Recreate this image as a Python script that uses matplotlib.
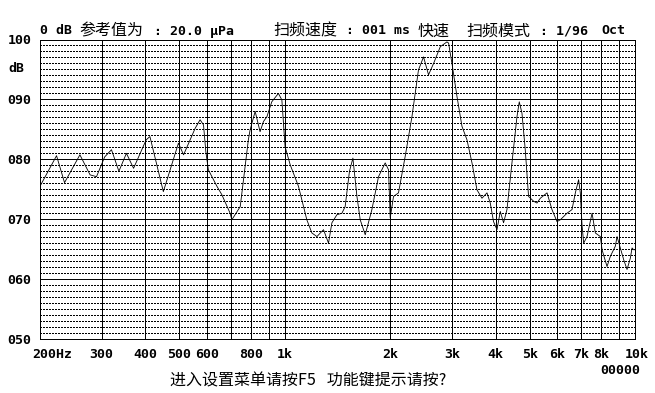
import matplotlib
matplotlib.use('Agg')
import matplotlib.pyplot as plt
from matplotlib.ticker import NullLocator
from matplotlib.transforms import offset_copy

# ---------------- data ----------------
freqs = [200, 223, 235, 260, 278, 290, 306, 320, 336, 353, 370, 402, 412, 450, 497, 514,
         555, 573, 586, 595, 605, 640, 661, 698, 706, 746, 787, 796, 823, 850, 869, 889,
         918, 959, 981, 1002, 1036, 1094, 1156, 1195, 1235, 1290, 1333, 1363, 1409, 1456,
         1487, 1530, 1565, 1607, 1642, 1697, 1773, 1852, 1935, 1978, 2000, 2044, 2112,
         2207, 2307, 2408, 2490, 2573, 2660, 2780, 2904, 2936, 2968, 3002, 3102, 3206,
         3313, 3424, 3538, 3656, 3779, 3861, 3945, 4036, 4124, 4214, 4309, 4453, 4602,
         4672, 4756, 4860, 4967, 5134, 5249, 5366, 5608, 5794, 5988, 6120, 6396, 6608,
         6756, 6902, 6980, 7058, 7134, 7295, 7540, 7706, 7962, 8052, 8320, 8504, 8788,
         8886, 9080, 9282, 9490, 9698, 9808, 9910, 10000]
levels = [75.5, 80.6, 76.1, 80.75, 77.4, 77.1, 80.4, 81.6, 78.0, 81.0, 78.5, 83.25, 83.8,
          74.6, 82.7, 80.75, 85.2, 86.6, 85.75, 81.3, 78.25, 75.5, 74.1, 71.0, 69.9, 72.1,
          83.25, 84.9, 88.0, 84.6, 86.3, 87.1, 89.6, 91.0, 89.9, 82.1, 79.1, 75.5, 69.9,
          67.7, 67.1, 68.25, 66.0, 69.4, 70.75, 71.0, 72.1, 78.0, 80.2, 73.8, 69.9, 67.4,
          71.6, 77.1, 79.4, 78.25, 70.2, 73.8, 74.4, 80.5, 87.1, 94.9, 97.1, 94.1, 96.0,
          98.8, 99.6, 99.4, 97.7, 96.0, 90.5, 85.5, 83.25, 79.4, 74.9, 73.5, 74.4, 72.7,
          69.6, 68.25, 71.3, 69.4, 71.6, 79.4, 87.1, 89.6, 87.7, 81.6, 73.8, 73.0, 72.7,
          73.5, 74.4, 71.6, 69.6, 69.9, 71.0, 71.6, 74.4, 76.6, 74.4, 69.1, 66.0, 67.1,
          71.0, 67.7, 67.1, 64.9, 62.1, 63.8, 65.5, 67.1, 65.2, 63.25, 61.6, 63.5, 65.2,
          64.9, 64.9]

x_tick_freqs = [200, 300, 400, 500, 600, 800, 1000, 2000, 3000, 4000, 5000, 6000, 7000, 8000, 10000]
x_tick_labels = ['200Hz', '300', '400', '500', '600', '800', '1k', '2k', '3k', '4k', '5k',
                 '6k', '7k', '8k', '10k']
grid_freqs = [300, 400, 500, 600, 700, 800, 900, 1000, 2000, 3000, 4000, 5000, 6000,
              7000, 8000, 9000]
y_ticks = [50, 60, 70, 80, 90, 100]
y_tick_labels = ['050', '060', '070', '080', '090', '100']

header_parts = [('0 dB', 'mono', 40), ('参考值为', 'cjk', 79), (': 20.0 μPa', 'mono', 154),
                ('扫频速度', 'cjk', 273), (': 001 ms', 'mono', 346), ('快速', 'cjk', 418),
                ('扫频模式', 'cjk', 466), (': 1/96', 'mono', 540), ('Oct', 'mono', 601)]
footer_text = '进入设置菜单请按F5   功能键提示请按?'
counter_text = '00000'

# ---------------- figure ----------------
W, H = 655, 393
fig = plt.figure(figsize=(W / 100, H / 100), dpi=100)
fig.patch.set_facecolor('white')
ax = fig.add_axes([40 / W, 1 - 339 / H, 595 / W, 299.5 / H])
ax.set_xscale('log')
ax.set_xlim(200, 10000)
ax.set_ylim(50, 100)

MONO = dict(family='DejaVu Sans Mono', weight='bold', size=9.5)
CJK = dict(family=['Noto Sans CJK SC', 'DejaVu Sans'], size=11.5)
PX = 0.72  # one pixel in points

# grid
for d in range(51, 100):
    if d % 10:
        ax.axhline(d, color='black', lw=PX, linestyle=(0, (2.0, 2.0)), zorder=1,
                   antialiased=False)
for d in y_ticks[1:-1]:
    ax.axhline(d, color='black', lw=PX, zorder=2, antialiased=False)
for f in grid_freqs:
    ax.axvline(f, color='black', lw=PX, zorder=2, antialiased=False)

# curve
ax.plot(freqs, levels, color='black', lw=0.6, zorder=3)

for s in ax.spines.values():
    s.set_linewidth(PX)
    s.set_color('black')
    s.set_antialiased(False)

ax.xaxis.set_minor_locator(NullLocator())
ax.set_xticks([])
ax.set_yticks(y_ticks)
ax.set_yticklabels(y_tick_labels, fontfamily='DejaVu Sans Mono', fontweight='bold',
                   fontsize=9.5)
ax.tick_params(axis='both', which='both', length=0, pad=6)

# x labels
xt = ax.get_xaxis_transform()
for f, lab in zip(x_tick_freqs, x_tick_labels):
    dx = 0
    if lab == '200Hz':
        dx = 12
    elif lab == '10k':
        dx = 2
    tr = offset_copy(xt, fig=fig, x=dx, y=0, units='dots')
    ax.text(f, -16 / 299.5, lab, transform=tr, ha='center', va='center', **MONO)

# dB label
fig.text(8 / W, 1 - 68 / H, 'dB', ha='left', va='center', **MONO)

# header
for txt, kind, px in header_parts:
    style = MONO if kind == 'mono' else CJK
    fig.text(px / W, 1 - 31 / H, txt, ha='left', va='center', **style)

# footer
fig.text(620 / W, 1 - 371 / H, counter_text, ha='center', va='center', **MONO)
fig.text(170 / W, 1 - 381 / H, footer_text, ha='left', va='center', **CJK)

fig.savefig('out.png', dpi=100, facecolor='white')
